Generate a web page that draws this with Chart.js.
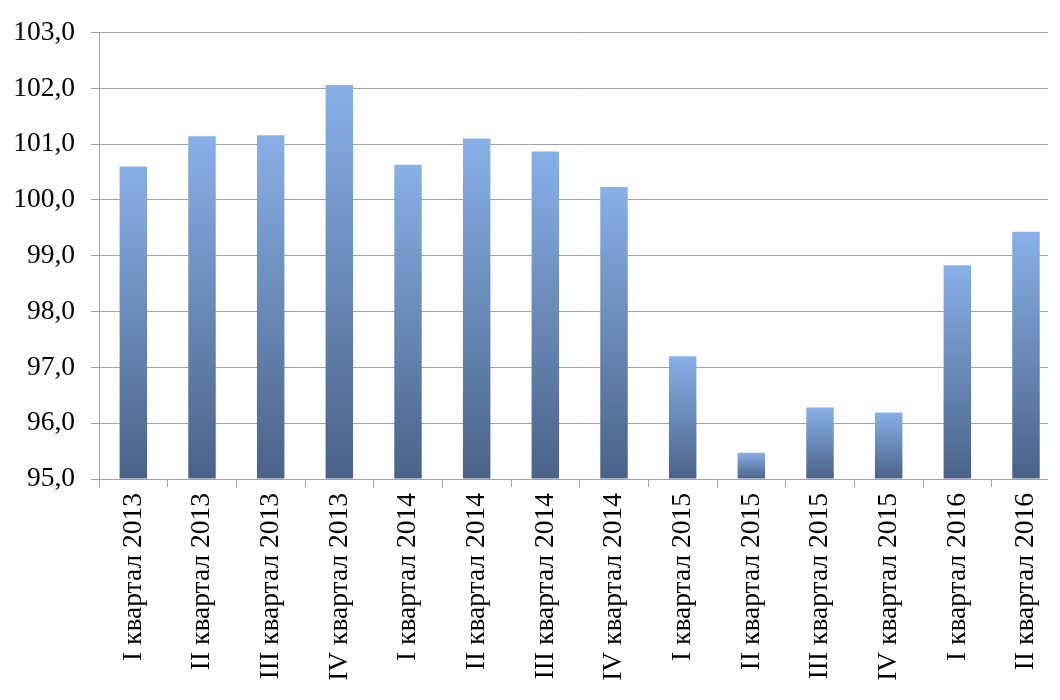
<!DOCTYPE html>
<html lang="ru">
<head>
<meta charset="utf-8">
<title>Индекс по кварталам</title>
<script src="https://cdn.jsdelivr.net/npm/chart.js@4.4.1/dist/chart.umd.min.js"></script>
<style>
    html, body {
        margin: 0;
        padding: 0;
        background: #ffffff;
    }
    #chart-wrap {
        width: 1048px;
        height: 700px;
        overflow: hidden;
    }
</style>
</head>
<body>
<div id="chart-wrap">
    <canvas id="quarter-chart" width="1065" height="700"></canvas>
</div>
<script>
// quarters on the x axis
const quarterLabels = [
    'I квартал 2013', 'II квартал 2013', 'III квартал 2013', 'IV квартал 2013',
    'I квартал 2014', 'II квартал 2014', 'III квартал 2014', 'IV квартал 2014',
    'I квартал 2015', 'II квартал 2015', 'III квартал 2015', 'IV квартал 2015',
    'I квартал 2016', 'II квартал 2016'
];

// values
const indexValues = [
    100.6, 101.14, 101.16, 102.06,
    100.63, 101.1, 100.87, 100.23,
    97.2, 95.47, 96.28, 96.19,
    98.83, 99.43
];

// y axis range
const yMin = 95;
const yMax = 103;
const yStep = 1;

const STYLE = {
    font: '"Liberation Serif", "Times New Roman", serif',
    fontSize: 27.5,
    text: '#000000',
    grid: '#a3a3a3',
    barTop: '#88b0e7',
    barBottom: '#4a6288'
};

// every bar gets its own vertical gradient (light top -> dark bottom)
function barGradient(context) {
    const chart = context.chart;
    const yScale = chart.scales.y;
    if (!yScale || context.raw === undefined) return STYLE.barTop;
    const top = yScale.getPixelForValue(context.raw);
    const bottom = yScale.getPixelForValue(yMin);
    if (!isFinite(top) || !isFinite(bottom) || top === bottom) return STYLE.barTop;
    const g = chart.ctx.createLinearGradient(0, top, 0, bottom);
    g.addColorStop(0, STYLE.barTop);
    g.addColorStop(1, STYLE.barBottom);
    return g;
}

function formatTick(value) {
    return Number(value).toFixed(1).replace('.', ',');
}

const ctx = document.querySelector('#quarter-chart');

new Chart(ctx, {
    type: 'bar',
    data: {
        labels: quarterLabels,
        datasets: [{
            data: indexValues,
            backgroundColor: barGradient,
            borderWidth: 0,
            categoryPercentage: 1,
            barPercentage: 0.4,
            base: yMin
        }]
    },
    options: {
        responsive: false,
        animation: false,
        devicePixelRatio: 1,
        layout: {
            padding: { top: 28, right: 0, bottom: 0, left: 0 }
        },
        plugins: {
            legend: { display: false },
            tooltip: { enabled: false }
        },
        scales: {
            x: {
                grid: {
                    display: true,
                    drawOnChartArea: false,
                    drawTicks: true,
                    tickLength: 8,
                    color: STYLE.grid,
                    offset: true
                },
                border: { display: true, color: STYLE.grid, width: 1 },
                ticks: {
                    autoSkip: false,
                    minRotation: 90,
                    maxRotation: 90,
                    padding: 6,
                    color: STYLE.text,
                    font: { family: STYLE.font, size: STYLE.fontSize }
                },
                afterFit(scale) {
                    scale.height = 221;
                }
            },
            y: {
                min: yMin,
                max: yMax,
                grid: {
                    color: STYLE.grid,
                    lineWidth: 1,
                    drawTicks: true,
                    tickLength: 8
                },
                border: { display: true, color: STYLE.grid, width: 1 },
                ticks: {
                    stepSize: yStep,
                    padding: 16,
                    color: STYLE.text,
                    font: { family: STYLE.font, size: STYLE.fontSize },
                    callback: formatTick
                },
                afterFit(scale) {
                    scale.width = 99;
                }
            }
        }
    }
});
</script>
</body>
</html>
